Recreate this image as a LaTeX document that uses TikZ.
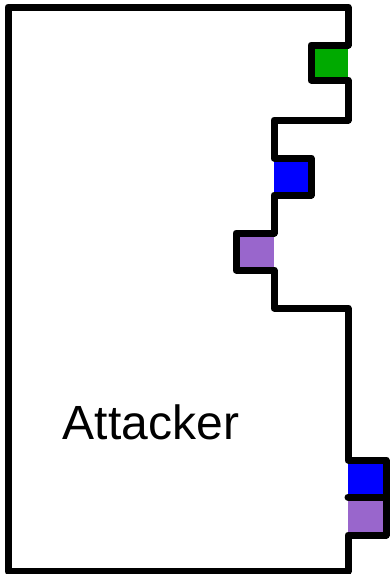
\documentclass[tikz,border=0pt]{standalone}
\usepackage{fontspec}
\setmainfont{Liberation Sans}
\definecolor{portgreen}{RGB}{0,170,0}
\definecolor{portblue}{RGB}{0,0,255}
\definecolor{portpurple}{RGB}{153,102,204}
\begin{document}
\begin{tikzpicture}[x=1pt,y=-1pt,
  outline/.style={draw=black,line width=7pt,line join=round,line cap=round},
  port/.style={inner sep=0pt,outer sep=0pt}]
\useasboundingbox (0,0) rectangle (390,574);
% port fills
\fill[portgreen]  (311,45)  rectangle (348,80);
\fill[portblue]   (274,158) rectangle (311,195);
\fill[portpurple] (236,233) rectangle (274,270);
\fill[portblue]   (348,460) rectangle (386,497);
\fill[portpurple] (348,497) rectangle (386,535);
% component outline with notches
\draw[outline] (8,7) -- (348,7) -- (348,45) -- (311,45) -- (311,80) -- (348,80)
  -- (348,120) -- (274,120) -- (274,158) -- (311,158) -- (311,195) -- (274,195)
  -- (274,233) -- (236,233) -- (236,270) -- (274,270) -- (274,308) -- (348,308)
  -- (348,460) -- (386,460) -- (386,535) -- (348,535) -- (348,571) -- (8,571) -- cycle;
\coordinate (divL) at (348,497);
\coordinate (divR) at (386,497);
\draw[outline] (divL) -- (divR);
\node[port,anchor=base,font=\fontsize{48}{48}\selectfont] (label) at (151,439) {Attacker};
\end{tikzpicture}
\end{document}
